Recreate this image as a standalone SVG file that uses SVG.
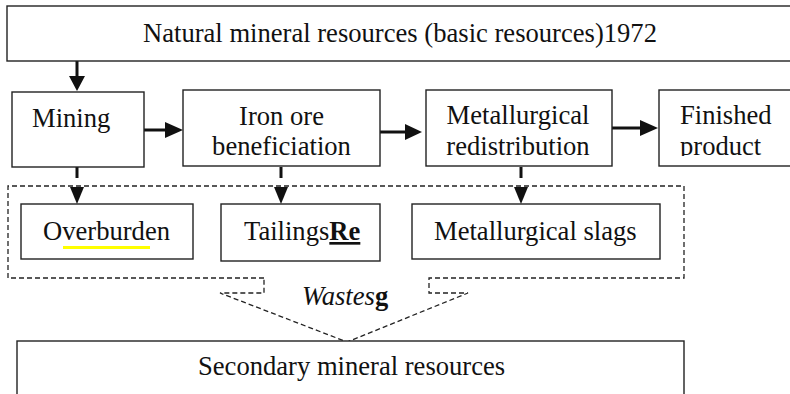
<svg xmlns="http://www.w3.org/2000/svg" width="790" height="394" viewBox="0 0 790 394">
<style>
.box{fill:#fff;stroke:#222;stroke-width:1.4}
.t{font-family:'Liberation Serif','Times New Roman',serif;font-size:26.6px;fill:#111}
.dash{fill:none;stroke:#222;stroke-width:1.3;stroke-dasharray:5 3}
.arr{stroke:#111;stroke-width:3;fill:none}
.head{fill:#111}
</style>
<defs>
<clipPath id="finclip"><rect x="659" y="90" width="140" height="66"/></clipPath>
</defs>
<rect width="790" height="394" fill="#fff"/>
<g id="connectors">
<line class="arr" x1="77" y1="61" x2="77" y2="78"/>
<polygon class="head" points="69,76 85,76 77,91"/>
<line class="arr" x1="144" y1="130" x2="167" y2="130"/>
<polygon class="head" points="165,122 183,130 165,138"/>
<line class="arr" x1="380" y1="132" x2="406" y2="132"/>
<polygon class="head" points="405,124 422,132 405,140"/>
<line class="arr" x1="612" y1="128" x2="642" y2="128"/>
<polygon class="head" points="640,120 658,128 640,136"/>
<line class="arr" x1="77" y1="167" x2="77" y2="178"/>
<polygon class="head" points="70,187 84,187 77,204"/>
<line class="arr" x1="281" y1="167" x2="281" y2="178"/>
<polygon class="head" points="274,187 288,187 281,204"/>
<line class="arr" x1="521" y1="167" x2="521" y2="178"/>
<polygon class="head" points="514,187 528,187 521,204"/>
<polyline class="dash" points="264,278 8,278 8,186 684,186 684,278 429,278 429,293 468,293 347,342 220,293 264,293 264,278"/>
</g>
<g id="natural">
<rect class="box" x="7" y="6" width="790" height="55"/>
<text class="t" x="143" y="42" font-family="Liberation Serif">Natural mineral resources (basic resources)1972</text>
</g>
<g id="mining">
<rect class="box" x="12" y="92" width="132" height="75"/>
<text class="t" x="32" y="127" font-family="Liberation Serif">Mining</text>
</g>
<g id="iron">
<rect class="box" x="183" y="90" width="197" height="76"/>
<text class="t" x="281.5" y="125" text-anchor="middle" font-family="Liberation Serif">Iron ore</text>
<text class="t" x="281.5" y="155" text-anchor="middle" font-family="Liberation Serif">beneficiation</text>
</g>
<g id="metallurgical">
<rect class="box" x="426" y="90" width="186" height="76"/>
<text class="t" x="518" y="124" text-anchor="middle" font-family="Liberation Serif">Metallurgical</text>
<text class="t" x="518" y="155" text-anchor="middle" font-family="Liberation Serif">redistribution</text>
</g>
<g id="finished">
<rect class="box" x="659" y="90" width="140" height="76"/>
<g clip-path="url(#finclip)">
<text class="t" x="680" y="124" font-family="Liberation Serif">Finished</text>
<text class="t" x="680" y="155" font-family="Liberation Serif">product</text>
</g>
</g>
<g id="overburden">
<rect class="box" x="21" y="204" width="172" height="55"/>
<line x1="63" y1="247.5" x2="150" y2="247.5" stroke="#ffff00" stroke-width="3"/>
<text class="t" x="43" y="240" font-family="Liberation Serif">Overburden</text>
</g>
<g id="tailings">
<rect class="box" x="221" y="204" width="159" height="57"/>
<text class="t" x="244" y="240" font-family="Liberation Serif">Tailings<tspan font-weight="bold" text-decoration="underline">Re</tspan></text>
</g>
<g id="slags">
<rect class="box" x="412" y="204" width="248" height="55"/>
<text class="t" x="434" y="240" font-family="Liberation Serif">Metallurgical slags</text>
</g>
<g id="wastes">
<text class="t" x="302" y="305" font-family="Liberation Serif"><tspan font-style="italic">Wastes</tspan><tspan font-weight="bold" text-decoration="underline">g</tspan></text>
</g>
<g id="secondary">
<rect class="box" x="17" y="341" width="667" height="70"/>
<text class="t" x="198" y="375" font-family="Liberation Serif">Secondary mineral resources</text>
</g>
</svg>
